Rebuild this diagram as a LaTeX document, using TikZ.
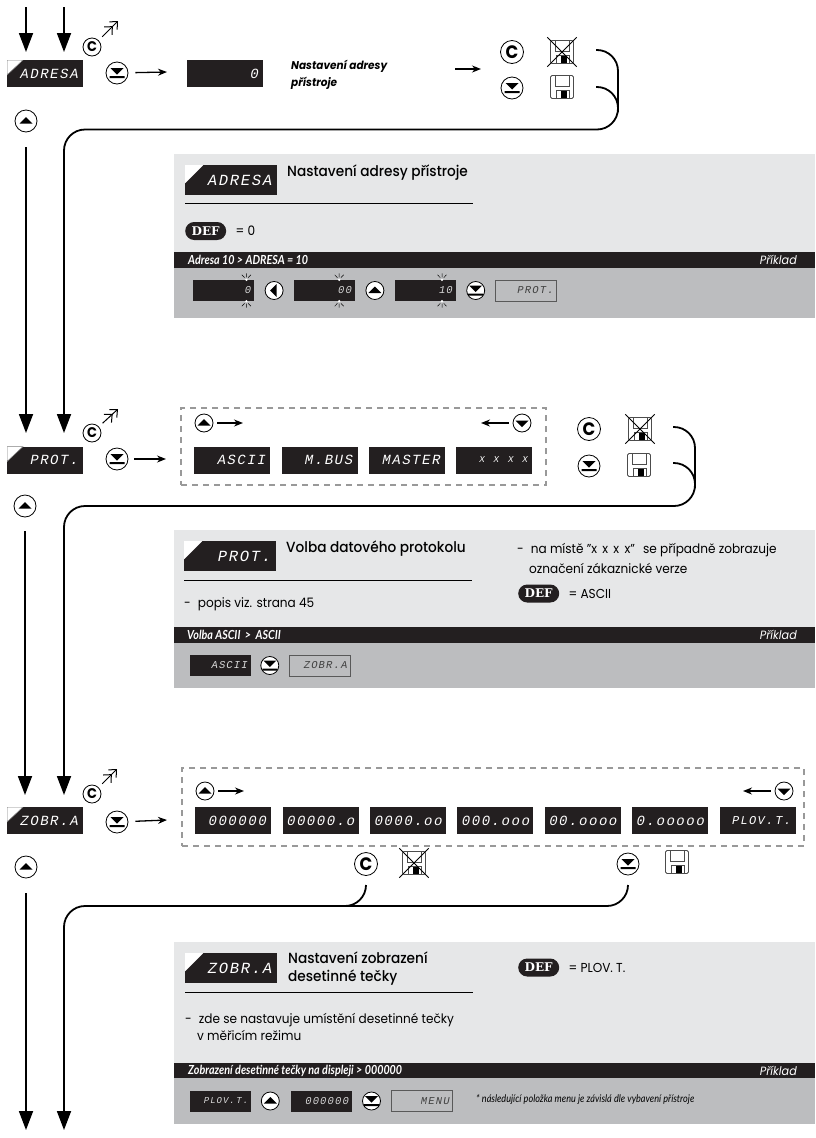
\documentclass[tikz,border=0pt]{standalone}
\usepackage{fontspec}
\setmainfont{Poppins}[FakeStretch=0.93]
\newfontfamily\headfont{Poppins Medium}[FakeStretch=0.93]
\newfontfamily\dispital{Liberation Mono Italic}[LetterSpace=11]
\newfontfamily\narrowfont{Lato}[FakeStretch=0.86]
\newfontfamily\deffont{DejaVu Serif}
\usetikzlibrary{arrows.meta,positioning,calc}
\definecolor{dispblack}{HTML}{231F20}
\definecolor{panellight}{HTML}{E6E7E8}
\definecolor{panelmid}{HTML}{BCBDBF}
\tikzset{
  disp/.style={fill=dispblack, text=white, inner sep=0pt, align=right, font=\dispital\fontsize{14}{14}\selectfont},
  dispbig/.style={disp, text width=67pt, inner xsep=4.5pt, minimum height=27pt},
  disphead/.style={disp, text width=82pt, inner xsep=5pt, minimum height=30pt, font=\dispital\fontsize{15.5}{15.5}\selectfont,
    path picture={\fill[white] (path picture bounding box.north west) -- ++(18pt,0pt) -- ++(-18pt,-18pt) -- cycle;}},
  dispmenu/.style={dispbig, path picture={\filldraw[fill=white, draw=black!50, line width=.5pt] (path picture bounding box.north west) -- ++(16pt,0pt) -- ++(-16pt,-15pt) -- cycle;}},
  dispsmall/.style={disp, text width=55pt, inner xsep=3pt, minimum height=21pt, font=\dispital\fontsize{10.5}{10.5}\selectfont, text=white!85!black},
  dispout/.style={dispsmall, fill=panelmid, draw=black!65, text=black!75},
  dashbox/.style={draw=black!40, line width=1.1pt, dash pattern=on 6pt off 5pt, minimum height=77pt},
  btn/.style={circle, draw, fill=white, line width=.8pt, inner sep=0pt, minimum size=#1*2pt},
  btnup/.style={btn=#1, path picture={\fill[black, shift={(path picture bounding box.center)},scale=#1/11] (-6.5pt,-2.5pt) -- (6.5pt,-2.5pt) -- (0pt,4pt) -- cycle;}},
  btnnext/.style={btn=#1, path picture={\fill[black, shift={(path picture bounding box.center)},scale=#1/11] (-6.5pt,2.5pt) -- (6.5pt,2.5pt) -- (0pt,-4pt) -- cycle;}},
  btnback/.style={btn=#1, path picture={\fill[black, shift={(path picture bounding box.center)},scale=#1/11] (2.5pt,-6.5pt) -- (2.5pt,6.5pt) -- (-4pt,0pt) -- cycle;}},
  btndn/.style={btn=#1, path picture={\fill[black, shift={(path picture bounding box.center)},scale=#1/11] (-6.5pt,5pt) -- (6.5pt,5pt) -- (0pt,-1.5pt) -- cycle (-7.5pt,-3pt) rectangle (7.5pt,-5pt);}},
  btnc/.style={circle, draw, fill=white, line width=.8pt, inner sep=0pt, minimum size=#1*2pt},
  cmark/.style={btnc=9, font=\bfseries\fontsize{14}{14}\selectfont},
  escmark/.style={btnc=11.5, font=\bfseries\fontsize{18}{18}\selectfont},
  floppy/.style={draw=black!70, line width=.8pt, rounded corners=1.5pt, minimum size=23pt, inner sep=0pt,
    path picture={\draw[black!70, line width=.6pt, sharp corners, shift={(path picture bounding box.center)}] (-7pt,12pt) -- (-7pt,1pt) -- (7pt,1pt) -- (7pt,12pt) (-6pt,-12pt) -- (-6pt,-3pt) -- (7pt,-3pt) -- (7pt,-12pt);
      \fill[black, sharp corners, shift={(path picture bounding box.center)}] (-1pt,-12pt) rectangle (5pt,-4pt);}},
  crossline/.style={line width=.9pt, shorten <=-4pt, shorten >=-4pt},
  panel/.style={fill=panellight, minimum width=641.4pt, anchor=north west, inner sep=0pt},
  panelrow/.style={panel, fill=panelmid},
  barstrip/.style={panel, fill=dispblack, minimum height=16pt},
  bartext/.style={text=white, inner sep=0pt, font=\narrowfont\bfseries\itshape\fontsize{12.5}{12.5}\selectfont},
  hint/.style={text=white, inner sep=0pt, font=\itshape\fontsize{12}{12}\selectfont},
  headtext/.style={anchor=west, inner sep=0pt, align=left, font=\headfont\fontsize{14.7}{18}\selectfont},
  bodytext/.style={anchor=west, inner sep=0pt, align=left, font=\fontsize{13}{17}\selectfont},
  rulehead/.style={line width=1pt},
  defpill/.style={fill=dispblack, text=white, rounded corners=9pt, minimum width=41pt, minimum height=18pt, inner sep=0pt, font=\deffont\bfseries\fontsize{12}{12}\selectfont},
  flow/.style={line width=1.8pt, rounded corners=21pt},
  bigarrow/.style={line width=1.8pt, rounded corners=21pt, -{Triangle[length=19pt,width=14pt]}},
  thinarrow/.style={line width=1.3pt, -{Stealth[length=9pt,width=7pt]}},
  exitarrow/.style={line width=1pt, -{Straight Barb[length=6pt,width=11pt]Straight Barb[length=6pt,width=11pt]}, shorten <=5pt},
  blinkmark/.pic={
    \fill[white] (0pt,0pt) circle (1.3pt);
    \draw[line width=.5pt] (0pt,2.5pt) -- (0pt,6.5pt) (-1.8pt,2.2pt) -- (-4.5pt,5pt) (1.8pt,2.2pt) -- (4.5pt,5pt);
  },
}

\begin{document}
\begin{tikzpicture}[x=1pt,y=-1pt]
  \useasboundingbox (0,0) rectangle (815,1138);

  % top arrows
  \coordinate (startL) at (26,7);
  \coordinate (startR) at (64,7);
  \coordinate (tipAL) at (26,52);
  \coordinate (tipAR) at (64,52);
  \draw[bigarrow] (startL) -- (tipAL);
  \draw[bigarrow] (startR) -- (tipAR);

  % adresa menu item
  \node[dispmenu] (menuA) at (45,73.5) {ADRESA};
  \node[cmark] (cA) at (92,47) {C};
  \coordinate (exitA) at (118,21);
  \draw[exitarrow] (cA) -- (exitA);
  \node[btndn=11] (dnA) at (117,73) {};
  \coordinate (goA) at (167,72);
  \draw[thinarrow, shorten <=7pt] (dnA) -- (goA);
  \node[dispbig, anchor=west] (valueA) at (187,73.5) {0};
  \node[anchor=west, inner sep=0pt, align=left, font=\bfseries\itshape\fontsize{11.3}{17}\selectfont] (noteA) at (291,75) {Nastavení adresy\\přístroje};
  \coordinate (goAA) at (455,69);
  \coordinate (goAB) at (481,69);
  \draw[thinarrow] (goAA) -- (goAB);
  \node[escmark] (escA) at (512,52) {C};
  \node[floppy] (nosaveA) at (562,52) {};
  \draw[crossline] (nosaveA.north west) -- (nosaveA.south east);
  \draw[crossline] (nosaveA.north east) -- (nosaveA.south west);
  \node[btndn=11] (okA) at (512,88) {};
  \node[floppy] (saveA) at (562,87) {};
  \node[btnup=11] (upA) at (26,121) {};

  % return line
  \coordinate (backA) at (596,50);
  \coordinate (backAB) at (596,87);
  \coordinate (tipBR) at (64,433);
  \coordinate (tipBL) at (26,433);
  \draw[flow] (backAB) -- (618,87) -- (618,112);
  \draw[bigarrow] (backA) -- (618,50) -- (618,129.5) -- (64,129.5) -- (tipBR);
  \draw[bigarrow, shorten <=15pt] (upA.south) -- (tipBL);

  % adresa panel
  \node[panel, minimum height=98pt] (panelA) at (173.6,154) {};
  \node[barstrip] (barA) at (173.6,252) {};
  \node[panelrow, minimum height=50pt] (rowA) at (173.6,268) {};
  \node[disphead, anchor=north west] (headA) at (185,165) {ADRESA};
  \node[headtext] (titleA) at (287,173) {Nastavení adresy přístroje};
  \draw[rulehead] (185,203) -- (473,203);
  \node[defpill, anchor=west] (defA) at (185,231) {DEF};
  \node[bodytext, right=9pt of defA] (eqA) {= 0};
  \node[bartext, anchor=west] (lineA) at (188,260) {Adresa 10 > ADRESA = 10};
  \node[hint, anchor=east] (hintA) at (797,260) {Příklad};
  \node[dispsmall, anchor=west] (stepAA) at (193,290.5) {0};
  \node[btnback=9, right=10.3pt of stepAA] (btnAA) {};
  \node[dispsmall, right=10.3pt of btnAA] (stepAB) {00};
  \node[btnup=9, right=10.3pt of stepAB] (btnAB) {};
  \node[dispsmall, right=10.3pt of btnAB] (stepAC) {10};
  \node[btndn=9, right=10.3pt of stepAC] (btnAC) {};
  \node[dispout, right=10.3pt of btnAC] (stepAD) {PROT.};
  \pic at ([xshift=-8pt]stepAA.north east) {blinkmark};
  \pic[yscale=-1] at ([xshift=-8pt]stepAA.south east) {blinkmark};
  \pic at ([xshift=-16pt]stepAB.north east) {blinkmark};
  \pic[yscale=-1] at ([xshift=-16pt]stepAB.south east) {blinkmark};
  \pic at ([xshift=-14pt]stepAC.north east) {blinkmark};
  \pic[yscale=-1] at ([xshift=-14pt]stepAC.south east) {blinkmark};

  % protokol menu item
  \node[dispmenu] (menuB) at (45,460) {PROT.};
  \node[cmark] (cB) at (92,433) {C};
  \coordinate (exitB) at (118,409);
  \draw[exitarrow] (cB) -- (exitB);
  \node[btndn=11] (dnB) at (117,459) {};
  \coordinate (goB) at (166,459);
  \draw[thinarrow, shorten <=6pt] (dnB) -- (goB);
  \node[dashbox, minimum width=365pt] (groupB) at (363.5,446.5) {};
  \node[btnup=9] (upGroupB) at (204,423) {};
  \coordinate (goBB) at (243,423);
  \draw[thinarrow, shorten <=4pt] (upGroupB) -- (goBB);
  \node[btnnext=9] (dnGroupB) at (522,423) {};
  \coordinate (goBC) at (481,423);
  \draw[thinarrow, shorten <=4pt] (dnGroupB) -- (goBC);
  \node[dispbig, anchor=west] (optBA) at (194,460) {ASCII};
  \node[dispbig, right=11pt of optBA] (optBB) {M.BUS};
  \node[dispbig, right=11pt of optBB] (optBC) {MASTER};
  \node[dispbig, right=11pt of optBC, font=\dispital\fontsize{9}{9}\selectfont] (optBD) {X\hspace{9pt}X\hspace{9pt}X\hspace{9pt}X};
  \node[escmark] (escB) at (589,429) {C};
  \node[floppy] (nosaveB) at (640,429) {};
  \draw[crossline] (nosaveB.north west) -- (nosaveB.south east);
  \draw[crossline] (nosaveB.north east) -- (nosaveB.south west);
  \node[btndn=11] (okB) at (589,466) {};
  \node[floppy] (saveB) at (639,465) {};
  \node[btnup=11] (upB) at (25,506) {};

  % return line
  \coordinate (backB) at (673,427);
  \coordinate (backBB) at (673,463);
  \coordinate (tipCR) at (64,795);
  \coordinate (tipCL) at (25,795);
  \draw[flow] (backBB) -- (695,463) -- (695,488);
  \draw[bigarrow] (backB) -- (695,427) -- (695,506) -- (64,506) -- (tipCR);
  \draw[bigarrow, shorten <=14pt] (upB.south) -- (tipCL);

  % protokol panel
  \node[panel, minimum height=97pt] (panelB) at (173.6,530) {};
  \node[barstrip] (barB) at (173.6,627) {};
  \node[panelrow, minimum height=45pt] (rowB) at (173.6,643) {};
  \node[disphead, anchor=north west] (headB) at (184,541) {PROT.};
  \node[headtext] (titleB) at (286,549) {Volba datového protokolu};
  \draw[rulehead] (184,580) -- (472,580);
  \node[bodytext] (textBA) at (184,604) {-\hspace{7pt}popis viz. strana 45};
  \node[bodytext] (textBB) at (517,558) {-\hspace{7pt}na místě "x\hspace{2pt} x\hspace{2pt} x\hspace{2pt} x"\hspace{5pt} se případně zobrazuje\\[3pt]\hspace{12pt}označení zákaznické verze};
  \node[defpill, anchor=west] (defB) at (518,593.5) {DEF};
  \node[bodytext, right=9pt of defB] (eqB) {= ASCII};
  \node[bartext, anchor=west] (lineB) at (187,635) {Volba ASCII \,>\, ASCII};
  \node[hint, anchor=east] (hintB) at (797,635) {Příklad};
  \node[dispsmall, anchor=west] (stepBA) at (189.5,665.5) {ASCII};
  \node[btndn=9, right=9.5pt of stepBA] (btnBA) {};
  \node[dispout, right=10pt of btnBA] (stepBB) {ZOBR.A};

  % desetinna tecka menu item
  \node[dispmenu] (menuC) at (45,820.5) {ZOBR.A};
  \node[cmark] (cC) at (92,794) {C};
  \coordinate (exitC) at (117,769);
  \draw[exitarrow] (cC) -- (exitC);
  \node[btndn=11] (dnC) at (117,822) {};
  \coordinate (goC) at (167,820);
  \draw[thinarrow, shorten <=7pt] (dnC) -- (goC);
  \node[dashbox, minimum width=622pt, minimum height=78pt] (groupC) at (493,807) {};
  \node[btnup=9] (upGroupC) at (205,791) {};
  \coordinate (goCB) at (244,791);
  \draw[thinarrow, shorten <=4pt] (upGroupC) -- (goCB);
  \node[btnnext=9] (dnGroupC) at (784,791) {};
  \coordinate (goCC) at (743,791);
  \draw[thinarrow, shorten <=4pt] (dnGroupC) -- (goCC);
  \node[dispbig, anchor=west] (optCA) at (195,820.5) {000000};
  \node[dispbig, right=11pt of optCA] (optCB) {00000.o};
  \node[dispbig, right=11pt of optCB] (optCC) {0000.oo};
  \node[dispbig, right=11pt of optCC] (optCD) {000.ooo};
  \node[dispbig, right=11pt of optCD] (optCE) {00.oooo};
  \node[dispbig, right=11pt of optCE] (optCF) {0.ooooo};
  \node[dispbig, right=11pt of optCF, font=\dispital\fontsize{12}{12}\selectfont] (optCG) {PLOV.\,T.};
  \node[escmark] (escC) at (366,864) {C};
  \node[floppy] (nosaveC) at (414,863) {};
  \draw[crossline] (nosaveC.north west) -- (nosaveC.south east);
  \draw[crossline] (nosaveC.north east) -- (nosaveC.south west);
  \node[btndn=11] (okC) at (628,864) {};
  \node[floppy] (saveC) at (677,862) {};
  \node[btnup=11] (upC) at (26,867) {};

  % return line
  \coordinate (backC) at (366,885);
  \coordinate (backCB) at (628,885);
  \coordinate (tipDR) at (64,1130);
  \coordinate (tipDL) at (26,1130);
  \draw[flow] (backC) -- (366,906) -- (340,906);
  \draw[bigarrow] (backCB) -- (628,906) -- (64,906) -- (tipDR);
  \draw[bigarrow, shorten <=15pt] (upC.south) -- (tipDL);

  % desetinna tecka panel
  \node[panel, minimum height=121pt] (panelC) at (173.6,942) {};
  \node[barstrip, minimum height=15pt] (barC) at (173.6,1063) {};
  \node[panelrow, minimum height=46pt] (rowC) at (173.6,1078) {};
  \node[disphead, anchor=north west] (headC) at (185,953) {ZOBR.A};
  \node[headtext] (titleC) at (288,969) {Nastavení zobrazení\\desetinné tečky};
  \draw[rulehead] (185,992) -- (473,992);
  \node[bodytext] (textC) at (185,1026.5) {-\hspace{7pt}zde se nastavuje umístění desetinné tečky\\\hspace{12pt}v měřicím režimu};
  \node[defpill, anchor=west] (defC) at (518,967.5) {DEF};
  \node[bodytext, right=9pt of defC] (eqC) {= PLOV. T.};
  \node[bartext, anchor=west] (lineC) at (188,1070.5) {Zobrazení desetinné tečky na displeji > 000000};
  \node[hint, anchor=east] (hintC) at (797,1070.5) {Příklad};
  \node[dispsmall, anchor=west, font=\dispital\fontsize{9}{9}\selectfont] (stepCA) at (190,1101) {PLOV.\,T.};
  \node[btnup=9, right=9.5pt of stepCA] (btnCA) {};
  \node[dispsmall, right=11pt of btnCA] (stepCB) {000000};
  \node[btndn=9, right=10pt of stepCB] (btnCB) {};
  \node[dispout, right=10.5pt of btnCB] (stepCC) {MENU};
  \node[anchor=west, inner sep=0pt, font=\narrowfont\itshape\fontsize{10.6}{10.6}\selectfont] (noteC) at (476,1099) {* následující položka menu je závislá dle vybavení přístroje};
\end{tikzpicture}
\end{document}
